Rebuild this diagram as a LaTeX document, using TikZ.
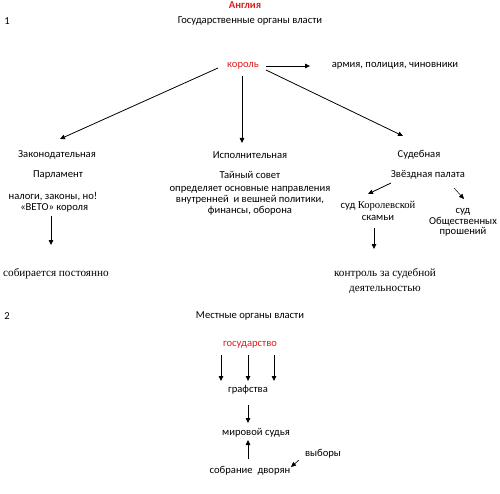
\documentclass[tikz,border=0pt]{standalone}
\usepackage{fontspec}
\setmainfont{Carlito}
\newfontfamily\serifru{Liberation Serif}
\usetikzlibrary{arrows.meta}
\definecolor{kred}{RGB}{220,30,30}
\tikzset{
  lbl/.style={inner sep=0pt, font=\fontsize{10.6}{11.2}\selectfont, align=center},
  srf/.style={inner sep=0pt, font=\serifru\fontsize{11.2}{15}\selectfont, align=center},
  red/.style={lbl, text=kred},
  arr/.style={-{Triangle[length=5pt,width=4.5pt]}, line width=0.8pt},
}
\begin{document}
\begin{tikzpicture}[x=1pt,y=-1pt]
\useasboundingbox[fill=white] (0,0) rectangle (500,494);
\node[red, font=\bfseries\fontsize{10.6}{11}\selectfont] (eng) at (245,5) {Англия};
\node[lbl] (n1) at (7,21) {1};
\node[lbl] (gov) at (250,21) {Государственные органы власти};
\node[red] (king) at (243,66) {король};
\node[lbl] (army) at (395,66) {армия, полиция, чиновники};
\coordinate (kr) at (266,66);
\coordinate (ar) at (310,66);
\draw[arr] (kr) -- (ar);

\node[lbl] (leg) at (57,155) {Законодательная};
\node[lbl] (exe) at (250,155) {Исполнительная};
\node[lbl] (jud) at (419,155) {Судебная};
\coordinate (k1) at (218,68); \coordinate (t1) at (60,139);
\coordinate (k2) at (242,76); \coordinate (t2) at (242,143);
\coordinate (k3) at (266,70); \coordinate (t3) at (403,136);
\draw[arr] (k1) -- (t1);
\draw[arr] (k2) -- (t2);
\draw[arr] (k3) -- (t3);

\node[lbl] (parl) at (58,175) {Парламент};
\node[lbl] (sec) at (250,175) {Тайный совет};
\node[lbl] (star) at (428,175) {Звёздная палата};

\node[lbl] (tax) at (53,202.5) {налоги, законы, но!\\ \ «ВЕТО» короля};
\coordinate (a1) at (51,216); \coordinate (b1) at (51,245);
\draw[arr] (a1) -- (b1);
\node[srf, anchor=west] (sob) at (3,274) {собирается постоянно};

\node[lbl, font=\fontsize{10.6}{11}\selectfont] (def) at (250,200.5) {определяет основные направления\\ внутренней \ и вешней политики,\\ финансы, оборона};

\coordinate (s1) at (391,183); \coordinate (s1t) at (368,194);
\coordinate (s2) at (454,188); \coordinate (s2t) at (464,199);
\draw[arr] (s1) -- (s1t);
\draw[arr, line width=0.5pt] (s2) -- (s2t);
\node[lbl, font=\fontsize{10.6}{12}\selectfont] (kb) at (378,211) {суд {\serifru Королевской}\\ скамьи};
\node[lbl, font=\fontsize{10.6}{10.6}\selectfont] (ob) at (463,222.5) {суд\\ Общественных\\ прошений};
\coordinate (c1) at (374,228); \coordinate (c1t) at (374,249);
\draw[arr] (c1) -- (c1t);
\node[srf] (ctrl) at (385,281.5) {контроль за судебной\\ деятельностью};

\node[lbl] (n2) at (7,316) {2};
\node[lbl] (loc) at (250,316) {Местные органы власти};
\node[red] (st) at (250,345) {государство};
\foreach \x/\n in {221/a,248/b,274/c}{
  \coordinate (g\n) at (\x,355); \coordinate (h\n) at (\x,381);
  \draw[arr] (g\n) -- (h\n);
}
\node[lbl] (cty) at (248,390) {графства};
\coordinate (d1) at (248,405); \coordinate (d1t) at (248,423);
\draw[arr] (d1) -- (d1t);
\node[lbl] (jp) at (256,433) {мировой судья};
\coordinate (e1) at (248,459); \coordinate (e1t) at (248,440);
\draw[arr] (e1) -- (e1t);
\node[lbl] (nob) at (250,471) {собрание \ дворян};
\node[lbl] (vyb) at (323,454) {выборы};
\coordinate (f1) at (299,460); \coordinate (f1t) at (291,467);
\draw[arr, line width=0.6pt] (f1) -- (f1t);
\end{tikzpicture}
\end{document}
